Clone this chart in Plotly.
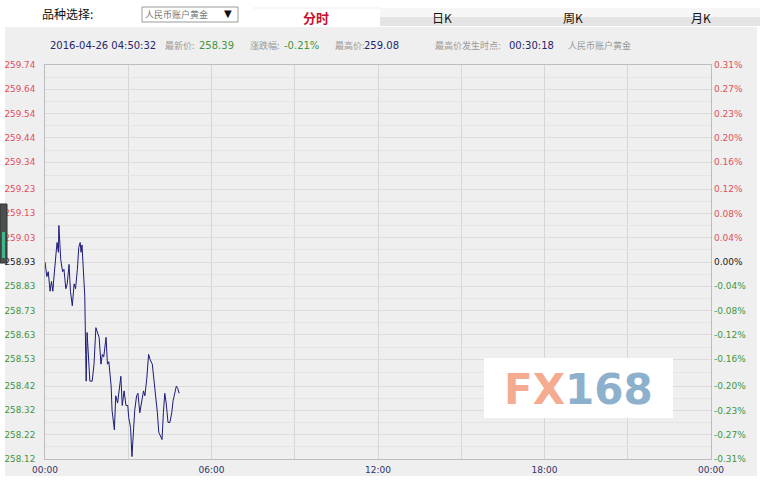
import plotly.graph_objects as go

# ---------------- data ----------------
times_min = [0, 4, 7, 11, 14, 17, 19, 23, 26, 29, 30, 34, 38, 41, 45, 48, 52, 55, 59, 63,
             66, 70, 73, 76, 78, 80, 83, 86, 88, 89, 91, 94, 97, 102, 106, 110, 114, 117, 121, 124,
             127, 132, 135, 138, 143, 145, 150, 153, 157, 160, 164, 167, 171, 175, 179, 181, 185, 188, 191, 194,
             198, 201, 205, 209, 213, 216, 220, 224, 227, 232, 236, 240, 243, 246, 250, 253, 256, 259, 262, 266,
             270, 274, 277, 281, 284, 287, 290]
prices = [258.93, 258.87, 258.89, 258.81, 258.85, 258.81, 258.86, 258.94, 259.01, 258.97,
          259.08, 258.94, 258.89, 258.90, 258.82, 258.84, 258.92, 258.81, 258.75, 258.84,
          258.82, 258.90, 258.99, 259.01, 258.97, 259.00, 258.91, 258.79, 258.55, 258.44,
          258.64, 258.51, 258.44, 258.44, 258.51, 258.66, 258.63, 258.62, 258.51, 258.55,
          258.54, 258.62, 258.51, 258.52, 258.42, 258.32, 258.24, 258.38, 258.35, 258.40,
          258.46, 258.34, 258.40, 258.34, 258.34, 258.29, 258.25, 258.13, 258.26, 258.32,
          258.38, 258.39, 258.31, 258.36, 258.40, 258.38, 258.45, 258.55, 258.53, 258.51,
          258.44, 258.36, 258.31, 258.23, 258.21, 258.20, 258.31, 258.39, 258.35, 258.27,
          258.27, 258.31, 258.36, 258.39, 258.42, 258.41, 258.39]

price_ticks = ["259.74", "259.64", "259.54", "259.44", "259.34", "259.23", "259.13", "259.03",
               "258.93", "258.83", "258.73", "258.63", "258.53", "258.42", "258.32", "258.22", "258.12"]
pct_ticks = ["0.31%", "0.27%", "0.23%", "0.20%", "0.16%", "0.12%", "0.08%", "0.04%",
             "0.00%", "-0.04%", "-0.08%", "-0.12%", "-0.16%", "-0.20%", "-0.23%", "-0.27%", "-0.31%"]
time_tick_vals = [0, 360, 720, 1080, 1440]
time_tick_labels = ["00:00", "06:00", "12:00", "18:00", "00:00"]

prev_close = 258.93
timestamp = "2016-04-26 04:50:32"
last_price = "258.39"
change_pct = "-0.21%"
high_price = "259.08"
high_time = "00:30:18"
product = "人民币账户黄金"
tabs = ["分时", "日K", "周K", "月K"]

# ---------------- styling ----------------
W, H = 767, 481
L, R, T, B = 45, 711, 65, 459
RED, GREEN, BLACK = "#e0505e", "#3f963f", "#222222"
NAVY = "#26266e"

def px(x):
    return (x - L) / (R - L)

def py(y):
    return (B - y) / (B - T)

tick_vals = [float(t) for t in price_ticks]
def col(v):
    if abs(v - prev_close) < 1e-6:
        return BLACK
    return RED if v > prev_close else GREEN

left_text = [f"<span style='color:{col(v)}'>{t}</span>" for v, t in zip(tick_vals, price_ticks)]
right_text = [f"<span style='color:{col(v)}'>{t}</span>" for v, t in zip(tick_vals, pct_ticks)]
minor_vals = [(a + b) / 2 for a, b in zip(tick_vals[:-1], tick_vals[1:])]
ymin, ymax = tick_vals[-1], tick_vals[0]

fig = go.Figure()
fig.add_trace(go.Scatter(x=times_min, y=prices, mode="lines",
                         line=dict(color="#1c1c7a", width=1), hoverinfo="skip", showlegend=False))
fig.add_trace(go.Scatter(x=times_min, y=prices, mode="lines", yaxis="y2",
                         line=dict(color="rgba(0,0,0,0)", width=0), hoverinfo="skip", showlegend=False))

font_num = "DejaVu Sans"
fig.update_layout(
    width=W, height=H,
    margin=dict(l=L, r=W - R, t=T, b=H - B, pad=0, autoexpand=False),
    paper_bgcolor="white",
    plot_bgcolor="#fafafa",
    xaxis=dict(range=[0, 1440], tickvals=time_tick_vals, ticktext=time_tick_labels,
               showgrid=True, gridcolor="#d6d6d6", gridwidth=1, automargin=False,
               minor=dict(tickvals=[180, 540, 900, 1260], showgrid=True, gridcolor="#d6d6d6", ticklen=0),
               showline=True, linecolor="#bdbdbd", mirror=True, zeroline=False,
               ticks="", tickfont=dict(family=font_num, size=9, color="#33336a"), ticklabelstandoff=2,
               fixedrange=True),
    yaxis=dict(range=[ymin, ymax], tickvals=tick_vals, ticktext=left_text, automargin=False,
               showgrid=True, gridcolor="#dcdcdc", gridwidth=1,
               minor=dict(tickvals=minor_vals, showgrid=True, gridcolor="#e4e4e4", ticklen=0),
               showline=True, linecolor="#bdbdbd", mirror=True, zeroline=False,
               ticks="", tickfont=dict(family=font_num, size=8.8), ticklabelstandoff=7,
               fixedrange=True),
    yaxis2=dict(range=[ymin, ymax], tickvals=tick_vals, ticktext=right_text, overlaying="y",
                side="right", showgrid=False, zeroline=False, showline=False, automargin=False,
                ticks="", tickfont=dict(family=font_num, size=9), ticklabelstandoff=2,
                fixedrange=True),
    showlegend=False,
)

shapes = []
# gray panel
shapes.append(dict(type="rect", xref="paper", yref="paper", layer="below",
                   x0=px(5), x1=px(757), y0=py(476), y1=py(27),
                   fillcolor="#efefef", line=dict(width=0)))
# tabs bar
shapes.append(dict(type="rect", xref="paper", yref="paper", layer="below",
                   x0=px(380), x1=px(760), y0=py(17), y1=py(8),
                   fillcolor="#f6f6f6", line=dict(width=0)))
shapes.append(dict(type="rect", xref="paper", yref="paper", layer="below",
                   x0=px(380), x1=px(760), y0=py(26), y1=py(17),
                   fillcolor="#e4e4e4", line=dict(width=0)))
shapes.append(dict(type="rect", xref="paper", yref="paper", layer="below",
                   x0=px(253), x1=px(380), y0=py(26), y1=py(8),
                   fillcolor="#ffffff", line=dict(width=0)))
shapes.append(dict(type="line", xref="paper", yref="paper", layer="below",
                   x0=px(253), x1=px(380), y0=py(8), y1=py(8),
                   line=dict(color="#eeeeee", width=1)))
# dropdown box
shapes.append(dict(type="rect", xref="paper", yref="paper", layer="below",
                   x0=px(142), x1=px(238), y0=py(22), y1=py(7),
                   fillcolor="#ffffff", line=dict(color="#9a9a9a", width=1)))
# left widget
shapes.append(dict(type="rect", xref="paper", yref="paper", layer="above",
                   x0=px(0), x1=px(7), y0=py(263), y1=py(204),
                   fillcolor="#4a4f4f", line=dict(color="#333", width=1)))
shapes.append(dict(type="rect", xref="paper", yref="paper", layer="above",
                   x0=px(2), x1=px(5), y0=py(258), y1=py(232),
                   fillcolor="#3fb58e", line=dict(width=0)))
# logo box
shapes.append(dict(type="rect", xref="paper", yref="paper", layer="above",
                   x0=px(484), x1=px(673), y0=py(418), y1=py(358),
                   fillcolor="#ffffff", line=dict(width=0)))
fig.update_layout(shapes=shapes)

ann = []
def text(x, y, s, size=11, color="#000", family="Noto Sans CJK SC", xanchor="left", bold=False):
    if bold:
        s = f"<b>{s}</b>"
    ann.append(dict(x=px(x), y=py(y), xref="paper", yref="paper", text=s, showarrow=False,
                    xanchor=xanchor, yanchor="middle",
                    font=dict(size=size, color=color, family=family)))

text(40, 14, "品种选择:", size=12, color="#111")
text(143, 15, product, size=9, color="#777")
text(222, 14, "▼", size=10, color="#111", family="DejaVu Sans")
text(316, 17, tabs[0], size=13, color="#c8102e", xanchor="center", bold=True)
text(442, 17, tabs[1], size=12, color="#111", xanchor="center")
text(573, 17, tabs[2], size=12, color="#111", xanchor="center")
text(701, 17, tabs[3], size=12, color="#111", xanchor="center")

text(48, 45, timestamp, size=10, color=NAVY, family=font_num)
text(163, 45, "最新价:", size=9, color="#999")
text(197, 45, last_price, size=10, color=GREEN, family=font_num)
text(248, 45, "涨跌幅:", size=9, color="#999")
text(282, 45, change_pct, size=10, color=GREEN, family=font_num)
text(333, 45, "最高价:", size=9, color="#999")
text(362, 45, high_price, size=10, color=NAVY, family=font_num)
text(433, 45, "最高价发生时点:", size=9, color="#999")
text(507, 45, high_time, size=10, color=NAVY, family=font_num)
text(566, 45, product, size=9, color="#999")

# logo
ann.append(dict(x=px(578), y=py(389), xref="paper", yref="paper", showarrow=False,
                xanchor="center", yanchor="middle",
                text="<b><span style='color:#f4ab90'>FX</span><span style='color:#8db0cc'>168</span></b>",
                font=dict(size=42, family="DejaVu Sans")))
fig.update_layout(annotations=ann)

fig.write_html("out.html", config={"displayModeBar": False},
               post_script="document.body.style.margin='0';document.body.style.padding='0';"
                           "document.body.style.overflow='hidden';")
